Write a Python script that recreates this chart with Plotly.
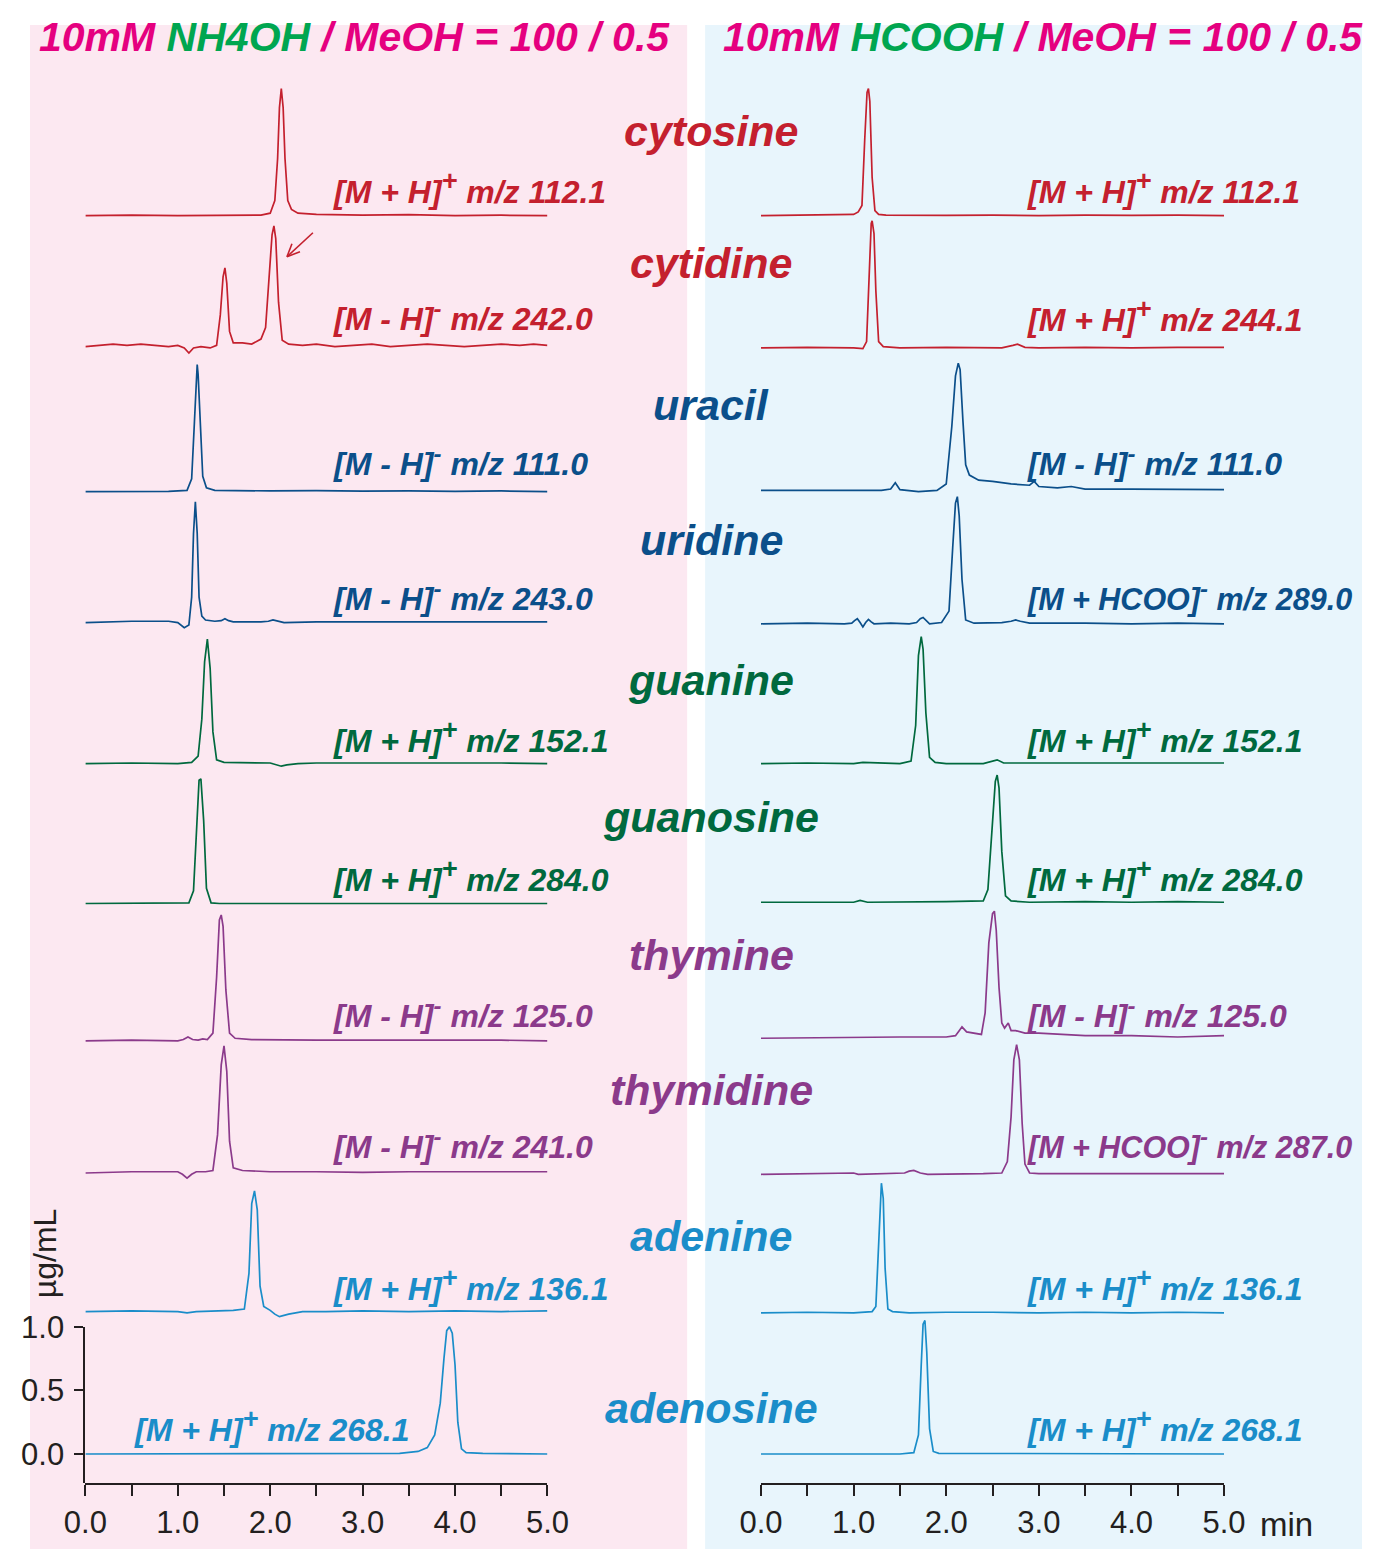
import plotly.graph_objects as go

W, H = 1376, 1549

# ---------------- data: left panel (10mM NH4OH / MeOH) ----------------
L_cytosine_t = [0, 0.5, 1.0, 1.5, 1.9, 2.0, 2.05, 2.08, 2.10, 2.12, 2.14, 2.16, 2.19, 2.23, 2.3, 2.5, 3.0, 3.5, 4.0, 4.5, 5.0]
L_cytosine_y = [0, 0.005, 0, 0.003, 0.005, 0.02, 0.12, 0.45, 0.85, 1.0, 0.85, 0.45, 0.12, 0.05, 0.02, 0.01, 0.005, 0.008, 0, 0.004, 0]

L_cytidine_t = [0, 0.15, 0.3, 0.45, 0.6, 0.75, 0.9, 1.0, 1.07, 1.12, 1.17, 1.25, 1.35, 1.42, 1.46, 1.49, 1.51, 1.53, 1.56, 1.6, 1.7, 1.8, 1.9, 1.95, 1.99, 2.02, 2.04, 2.06, 2.09, 2.13, 2.2, 2.35, 2.5, 2.7, 2.9, 3.1, 3.3, 3.5, 3.7, 3.9, 4.1, 4.3, 4.5, 4.7, 4.85, 5.0]
L_cytidine_y = [0, 0.01, 0.02, 0.01, 0.02, 0.01, 0.0, 0.01, -0.01, -0.05, -0.01, 0.0, -0.01, 0.01, 0.25, 0.55, 0.62, 0.5, 0.12, 0.03, 0.03, 0.02, 0.06, 0.15, 0.55, 0.88, 0.95, 0.85, 0.35, 0.05, 0.02, 0.01, 0.02, 0.0, 0.01, 0.02, 0.0, 0.01, 0.02, 0.01, 0.0, 0.01, 0.02, 0.01, 0.02, 0.01]

L_uracil_t = [0, 0.5, 0.9, 1.1, 1.15, 1.18, 1.20, 1.21, 1.22, 1.24, 1.27, 1.31, 1.4, 2.0, 2.5, 3.0, 3.5, 4.0, 4.5, 5.0]
L_uracil_y = [0, 0.003, 0.002, 0.01, 0.1, 0.55, 0.92, 1.0, 0.92, 0.55, 0.12, 0.03, 0.01, 0.005, 0.008, 0.003, 0.006, 0.002, 0.005, 0.0]

L_uridine_t = [0, 0.5, 0.9, 1.0, 1.07, 1.12, 1.15, 1.17, 1.19, 1.21, 1.23, 1.26, 1.3, 1.4, 1.47, 1.51, 1.55, 1.6, 1.9, 1.98, 2.03, 2.08, 2.15, 2.5, 3.0, 3.5, 4.0, 4.5, 5.0]
L_uridine_y = [0, 0.01, 0.01, 0.0, -0.04, -0.02, 0.2, 0.7, 0.95, 0.7, 0.2, 0.05, 0.02, 0.01, 0.015, 0.03, 0.015, 0.005, 0.005, 0.01, 0.02, 0.01, 0.0, 0.005, 0.005, 0.01, 0.005, 0.01, 0.005]

L_guanine_t = [0, 0.5, 1.0, 1.15, 1.22, 1.26, 1.29, 1.32, 1.35, 1.38, 1.42, 1.5, 2.0, 2.06, 2.12, 2.18, 2.3, 2.5, 3.0, 3.5, 4.0, 4.5, 5.0]
L_guanine_y = [0, 0.005, 0.0, 0.01, 0.06, 0.35, 0.8, 0.98, 0.75, 0.25, 0.03, 0.01, 0.005, -0.01, -0.02, -0.01, 0.0, 0.005, 0.005, 0.01, 0.005, 0.005, 0.0]

L_guanosine_t = [0, 0.5, 1.0, 1.12, 1.17, 1.2, 1.23, 1.25, 1.28, 1.31, 1.36, 1.45, 2.0, 2.5, 3.0, 3.5, 4.0, 4.5, 5.0]
L_guanosine_y = [0, 0, 0, 0.005, 0.1, 0.6, 0.97, 0.98, 0.65, 0.12, 0.005, 0, 0, 0.005, 0, 0, 0, 0, 0]

L_thymine_t = [0, 0.5, 1.0, 1.06, 1.11, 1.16, 1.22, 1.27, 1.32, 1.38, 1.42, 1.45, 1.47, 1.49, 1.52, 1.56, 1.62, 1.8, 2.5, 3.0, 3.5, 4.0, 4.5, 5.0]
L_thymine_y = [0, 0.005, 0.0, 0.01, 0.03, 0.01, 0.005, 0.015, 0.01, 0.06, 0.5, 0.95, 0.99, 0.9, 0.4, 0.06, 0.02, 0.01, 0.005, 0.005, 0.008, 0.005, 0.005, 0.0]

L_thymidine_t = [0, 0.5, 0.9, 1.0, 1.05, 1.1, 1.15, 1.2, 1.3, 1.38, 1.43, 1.47, 1.50, 1.53, 1.56, 1.6, 1.7, 2.0, 2.5, 3.0, 3.5, 4.0, 4.5, 5.0]
L_thymidine_y = [0.0, 0.01, 0.01, 0.01, -0.01, -0.04, -0.01, 0.01, 0.01, 0.02, 0.3, 0.85, 1.0, 0.8, 0.25, 0.04, 0.02, 0.01, 0.01, 0.005, 0.01, 0.01, 0.005, 0.01]

L_adenine_t = [0, 0.5, 1.0, 1.1, 1.2, 1.6, 1.72, 1.77, 1.80, 1.83, 1.86, 1.89, 1.93, 2.0, 2.05, 2.1, 2.2, 2.35, 2.6, 3.0, 3.5, 4.0, 4.5, 5.0]
L_adenine_y = [0, 0.005, 0.0, -0.01, 0.0, 0.01, 0.02, 0.3, 0.85, 0.95, 0.8, 0.2, 0.04, 0.01, -0.02, -0.04, -0.02, 0.0, 0.0, 0.005, 0.0, 0.005, 0.0, 0.005]

L_adenosine_t = [0, 0.5, 1.0, 1.5, 2.0, 2.5, 3.0, 3.4, 3.6, 3.7, 3.78, 3.84, 3.88, 3.91, 3.94, 3.97, 4.0, 4.03, 4.07, 4.12, 4.3, 4.6, 5.0]
L_adenosine_y = [0, 0, 0.002, 0, 0.002, 0, 0.002, 0.005, 0.02, 0.05, 0.15, 0.4, 0.75, 0.97, 1.0, 0.95, 0.7, 0.25, 0.04, 0.01, 0.005, 0.003, 0.0]

# ---------------- data: right panel (10mM HCOOH / MeOH) ----------------
R_cytosine_t = [0, 0.5, 1.0, 1.05, 1.09, 1.12, 1.145, 1.16, 1.175, 1.2, 1.23, 1.27, 1.35, 2.0, 2.5, 3.0, 3.5, 4.0, 4.5, 5.0]
R_cytosine_y = [0, 0.003, 0.01, 0.03, 0.08, 0.6, 0.97, 1.0, 0.9, 0.3, 0.04, 0.01, 0.005, 0.003, 0.005, 0.0, 0.005, 0.003, 0.005, 0.0]

R_cytidine_t = [0, 0.5, 1.0, 1.1, 1.14, 1.17, 1.19, 1.20, 1.22, 1.24, 1.27, 1.32, 1.5, 2.0, 2.6, 2.72, 2.77, 2.85, 3.0, 3.5, 4.0, 4.5, 5.0]
R_cytidine_y = [0, 0.005, 0.0, -0.005, 0.05, 0.7, 0.98, 1.0, 0.9, 0.45, 0.05, 0.01, 0.0, 0.005, 0.0, 0.02, 0.03, 0.005, 0.0, 0.005, 0.0, 0.005, 0.005]

R_uracil_t = [0, 0.5, 1.0, 1.3, 1.4, 1.45, 1.5, 1.7, 1.9, 2.0, 2.06, 2.1, 2.13, 2.15, 2.18, 2.21, 2.25, 2.35, 2.5, 2.7, 2.9, 2.95, 3.0, 3.2, 3.35, 3.5, 4.0, 4.5, 5.0]
R_uracil_y = [0, 0.0, 0.005, 0.0, 0.01, 0.06, 0.005, -0.01, 0.0, 0.05, 0.5, 0.9, 1.0, 0.95, 0.55, 0.2, 0.12, 0.08, 0.07, 0.05, 0.04, 0.07, 0.03, 0.02, 0.03, 0.01, 0.01, 0.005, 0.005]

R_uridine_t = [0, 0.5, 0.9, 0.98, 1.01, 1.04, 1.07, 1.1, 1.13, 1.16, 1.19, 1.22, 1.4, 1.6, 1.68, 1.72, 1.75, 1.78, 1.82, 1.95, 2.03, 2.07, 2.10, 2.12, 2.14, 2.17, 2.21, 2.3, 2.6, 2.7, 2.75, 2.8, 2.9, 3.5, 4.0, 4.5, 5.0]
R_uridine_y = [0, 0.005, 0.0, 0.005, 0.025, 0.04, 0.01, -0.025, 0.01, 0.035, 0.015, 0.0, 0.005, 0.0, 0.01, 0.04, 0.05, 0.03, 0.0, 0.01, 0.1, 0.6, 0.95, 1.0, 0.85, 0.35, 0.03, 0.005, 0.01, 0.02, 0.03, 0.02, 0.005, 0.005, 0.0, 0.005, 0.0]

R_guanine_t = [0, 0.5, 1.0, 1.1, 1.5, 1.62, 1.67, 1.70, 1.73, 1.75, 1.78, 1.82, 1.88, 2.0, 2.4, 2.5, 2.55, 2.62, 3.0, 3.5, 4.0, 4.5, 5.0]
R_guanine_y = [0, 0.005, 0.0, 0.01, 0.0, 0.02, 0.3, 0.85, 1.0, 0.9, 0.4, 0.05, 0.01, 0.0, 0.0, 0.02, 0.03, 0.005, 0.005, 0.0, 0.005, 0.0, 0.005]

R_guanosine_t = [0, 0.5, 1.0, 1.07, 1.15, 2.0, 2.4, 2.45, 2.5, 2.53, 2.55, 2.57, 2.6, 2.64, 2.7, 2.9, 3.5, 4.0, 4.5, 5.0]
R_guanosine_y = [0, 0.0, 0.0, 0.015, 0.0, 0.005, 0.01, 0.1, 0.6, 0.95, 1.0, 0.9, 0.4, 0.05, 0.01, 0.0, 0.005, 0.0, 0.005, 0.0]

R_thymine_t = [0, 0.5, 1.0, 1.5, 2.0, 2.1, 2.14, 2.17, 2.22, 2.3, 2.38, 2.42, 2.46, 2.5, 2.52, 2.54, 2.57, 2.6, 2.63, 2.67, 2.7, 2.75, 2.85, 3.0, 3.2, 3.5, 4.0, 4.5, 5.0]
R_thymine_y = [0, 0.005, 0.005, 0.01, 0.01, 0.02, 0.06, 0.09, 0.05, 0.04, 0.03, 0.2, 0.75, 0.98, 1.0, 0.85, 0.4, 0.12, 0.08, 0.12, 0.06, 0.06, 0.04, 0.04, 0.03, 0.02, 0.02, 0.01, 0.02]

R_thymidine_t = [0, 0.5, 1.0, 1.05, 1.55, 1.6, 1.65, 1.72, 1.8, 2.4, 2.6, 2.66, 2.7, 2.73, 2.76, 2.79, 2.82, 2.85, 2.9, 3.0, 3.5, 4.0, 4.5, 5.0]
R_thymidine_y = [0, 0.005, 0.01, 0.0, 0.01, 0.025, 0.03, 0.01, 0.0, 0.005, 0.01, 0.1, 0.45, 0.9, 1.02, 0.9, 0.4, 0.08, 0.01, 0.005, 0.005, 0.0, 0.005, 0.005]

R_adenine_t = [0, 0.5, 1.0, 1.2, 1.24, 1.27, 1.29, 1.30, 1.32, 1.34, 1.37, 1.42, 1.6, 2.0, 2.5, 3.0, 3.5, 4.0, 4.5, 5.0]
R_adenine_y = [0, 0.005, 0.0, 0.01, 0.05, 0.6, 0.98, 1.02, 0.9, 0.35, 0.03, 0.01, 0.0, 0.005, 0.005, 0.0, 0.005, 0.0, 0.005, 0.0]

R_adenosine_t = [0, 0.5, 1.0, 1.5, 1.65, 1.70, 1.73, 1.75, 1.77, 1.79, 1.82, 1.86, 1.92, 2.0, 2.5, 3.0, 3.5, 4.0, 4.5, 5.0]
R_adenosine_y = [0, 0.0, 0.002, 0.0, 0.01, 0.15, 0.7, 1.02, 1.05, 0.8, 0.2, 0.02, 0.005, 0.005, 0.0, 0.002, 0.0, 0.002, 0.0, 0.0]

compounds = ["cytosine", "cytidine", "uracil", "uridine", "guanine",
             "guanosine", "thymine", "thymidine", "adenine", "adenosine"]

PLUS = '<sup><span style="font-size:27px">+</span></sup>'
MINUS = '<sup><span style="font-size:24px">-</span></sup>'

left_ions = ["[M + H]" + PLUS + " m/z 112.1", "[M - H]" + MINUS + " m/z 242.0",
             "[M - H]" + MINUS + " m/z 111.0", "[M - H]" + MINUS + " m/z 243.0",
             "[M + H]" + PLUS + " m/z 152.1", "[M + H]" + PLUS + " m/z 284.0",
             "[M - H]" + MINUS + " m/z 125.0", "[M - H]" + MINUS + " m/z 241.0",
             "[M + H]" + PLUS + " m/z 136.1", "[M + H]" + PLUS + " m/z 268.1"]
right_ions = ["[M + H]" + PLUS + " m/z 112.1", "[M + H]" + PLUS + " m/z 244.1",
              "[M - H]" + MINUS + " m/z 111.0", "[M + HCOO]" + MINUS + " m/z 289.0",
              "[M + H]" + PLUS + " m/z 152.1", "[M + H]" + PLUS + " m/z 284.0",
              "[M - H]" + MINUS + " m/z 125.0", "[M + HCOO]" + MINUS + " m/z 287.0",
              "[M + H]" + PLUS + " m/z 136.1", "[M + H]" + PLUS + " m/z 268.1"]

x_ticks = [0.0, 0.5, 1.0, 1.5, 2.0, 2.5, 3.0, 3.5, 4.0, 4.5, 5.0]
x_ticktext = ["0.0", "", "1.0", "", "2.0", "", "3.0", "", "4.0", "", "5.0"]
y_ticks = [0.0, 0.5, 1.0]
y_ticktext = ["0.0", "0.5", "1.0"]

left_t = [L_cytosine_t, L_cytidine_t, L_uracil_t, L_uridine_t, L_guanine_t,
          L_guanosine_t, L_thymine_t, L_thymidine_t, L_adenine_t, L_adenosine_t]
left_y = [L_cytosine_y, L_cytidine_y, L_uracil_y, L_uridine_y, L_guanine_y,
          L_guanosine_y, L_thymine_y, L_thymidine_y, L_adenine_y, L_adenosine_y]
right_t = [R_cytosine_t, R_cytidine_t, R_uracil_t, R_uridine_t, R_guanine_t,
           R_guanosine_t, R_thymine_t, R_thymidine_t, R_adenine_t, R_adenosine_t]
right_y = [R_cytosine_y, R_cytidine_y, R_uracil_y, R_uridine_y, R_guanine_y,
           R_guanosine_y, R_thymine_y, R_thymidine_y, R_adenine_y, R_adenosine_y]

# ---------------- styles / layout ----------------
RED, DBLUE, GREEN, PURPLE, LBLUE = "#C4202E", "#0B4F8A", "#00693E", "#8B3A8B", "#1A8DC9"
colors = [RED, RED, DBLUE, DBLUE, GREEN, GREEN, PURPLE, PURPLE, LBLUE, LBLUE]
left_offsets = [9.74, 8.71, 7.57, 6.54, 5.43, 4.33, 3.25, 2.21, 1.12, 0.0]
right_offsets = [9.74, 8.70, 7.58, 6.53, 5.43, 4.34, 3.27, 2.20, 1.11, 0.0]

MAG, TGREEN = "#E5007F", "#00A650"
AXC = "#231F20"
FONT = "Liberation Sans, Arial, sans-serif"

# screen placement (target pixel rows/cols in the final picture)
PX_PER_UNIT = 127.0
BASE_PX = 1453.0   # zero intensity of the bottom trace
AXIS_PX = 1482.0   # time axis line
TOP_PX = 60.0
Y1_PX = 1326.0     # 1.0 tick of the intensity axis

# the page is shown with an offset/scale; map target pixels into paper fractions
SX, OX = 0.970, 27.5
SY, OY = 0.988, 25.5


def fx(X):
    return min(max((X - OX) / SX / W, 0.0), 1.0)


def fy(Y):
    return min(max(1 - (Y - OY) / SY / H, 0.0), 1.0)


y_lo = -(AXIS_PX - BASE_PX) / PX_PER_UNIT
y_hi = (BASE_PX - TOP_PX) / PX_PER_UNIT

fig = go.Figure()

for i in range(10):
    fig.add_trace(go.Scatter(
        x=left_t[i], y=[v + left_offsets[i] for v in left_y[i]],
        mode="lines", line=dict(color=colors[i], width=1.7),
        xaxis="x", yaxis="y", showlegend=False, hoverinfo="skip"))
    fig.add_trace(go.Scatter(
        x=right_t[i], y=[v + right_offsets[i] for v in right_y[i]],
        mode="lines", line=dict(color=colors[i], width=1.7),
        xaxis="x2", yaxis="y2", showlegend=False, hoverinfo="skip"))

# invisible trace so the visible intensity axis is drawn
fig.add_trace(go.Scatter(x=[None], y=[None], xaxis="x", yaxis="y3",
                         showlegend=False, hoverinfo="skip"))

TICKFONT = dict(family=FONT, size=31, color=AXC)
xaxis_common = dict(range=[0, 5], showline=True, linecolor=AXC, linewidth=2,
                    ticks="outside", ticklen=11, tickwidth=2, tickcolor=AXC,
                    tickvals=x_ticks, ticktext=x_ticktext, showgrid=False,
                    zeroline=False, tickfont=TICKFONT)

fig.update_layout(
    width=W, height=H,
    margin=dict(l=0, r=0, t=0, b=0),
    paper_bgcolor="white", plot_bgcolor="rgba(0,0,0,0)",
    xaxis=dict(domain=[fx(83), fx(546)], anchor="y", **xaxis_common),
    xaxis2=dict(domain=[fx(760), fx(1224)], anchor="y2", **xaxis_common),
    yaxis=dict(domain=[fy(AXIS_PX), fy(TOP_PX)], range=[y_lo, y_hi], visible=False,
               anchor="x"),
    yaxis2=dict(domain=[fy(AXIS_PX), fy(TOP_PX)], range=[y_lo, y_hi], visible=False,
                anchor="x2"),
    yaxis3=dict(domain=[fy(AXIS_PX), fy(Y1_PX)], range=[y_lo, 1.0], anchor="x",
                showline=True, linecolor=AXC, linewidth=2, ticks="outside",
                ticklen=9, tickwidth=2, tickcolor=AXC, tickvals=y_ticks,
                ticktext=y_ticktext, showgrid=False, zeroline=False,
                ticklabelstandoff=4, tickfont=TICKFONT),
)

shapes = [
    dict(type="rect", xref="paper", yref="paper", x0=fx(7), x1=fx(686),
         y0=0, y1=fy(10), fillcolor="#FCE8F1", line=dict(width=0), layer="below"),
    dict(type="rect", xref="paper", yref="paper", x0=fx(704), x1=1,
         y0=0, y1=fy(10), fillcolor="#E8F5FC", line=dict(width=0), layer="below"),
    # arrow pointing at the cytidine peak
    dict(type="line", xref="paper", yref="paper", x0=fx(311), y0=fy(233),
         x1=fx(285), y1=fy(257), line=dict(color=RED, width=1.6)),
    dict(type="line", xref="paper", yref="paper", x0=fx(285), y0=fy(257),
         x1=fx(290), y1=fy(244), line=dict(color=RED, width=1.6)),
    dict(type="line", xref="paper", yref="paper", x0=fx(285), y0=fy(257),
         x1=fx(298), y1=fy(252), line=dict(color=RED, width=1.6)),
]
fig.update_layout(shapes=shapes)

ann = []
title_tpl = '<b><i>10mM <span style="color:%s">%s</span> / MeOH = 100 / 0.5</i></b>'
ann.append(dict(text=title_tpl % (TGREEN, "NH4OH"), x=fx(353), y=fy(37),
                xref="paper", yref="paper", showarrow=False, xanchor="center",
                yanchor="middle", font=dict(family=FONT, size=41, color=MAG)))
ann.append(dict(text=title_tpl % (TGREEN, "HCOOH"), x=fx(1043), y=fy(37),
                xref="paper", yref="paper", showarrow=False, xanchor="center",
                yanchor="middle", font=dict(family=FONT, size=41, color=MAG)))

name_px = [131, 263, 405, 540, 680, 817, 955, 1089, 1235, 1407]
ion_px = [188, 316, 461, 596, 737, 876, 1012, 1143, 1284, 1425]
for i in range(10):
    ann.append(dict(text="<b><i>%s</i></b>" % compounds[i], x=fx(710), y=fy(name_px[i]),
                    xref="paper", yref="paper", showarrow=False, xanchor="center",
                    yanchor="middle", font=dict(family=FONT, size=43, color=colors[i])))
    lx = 130 if i == 9 else 329
    ann.append(dict(text="<b><i>%s</i></b>" % left_ions[i], x=fx(lx), y=fy(ion_px[i]),
                    xref="paper", yref="paper", showarrow=False, xanchor="left",
                    yanchor="middle", font=dict(family=FONT, size=32, color=colors[i])))
    rsize = 30.5 if "HCOO" in right_ions[i] else 32
    ann.append(dict(text="<b><i>%s</i></b>" % right_ions[i], x=fx(1025), y=fy(ion_px[i]),
                    xref="paper", yref="paper", showarrow=False, xanchor="left",
                    yanchor="middle", font=dict(family=FONT, size=rsize, color=colors[i])))

ann.append(dict(text="µg/mL", x=fx(42), y=fy(1252), xref="paper", yref="paper",
                showarrow=False, textangle=-90, xanchor="center", yanchor="middle",
                font=dict(family=FONT, size=32, color=AXC)))
ann.append(dict(text="min", x=fx(1258), y=fy(1523), xref="paper", yref="paper",
                showarrow=False, xanchor="left", yanchor="middle",
                font=dict(family=FONT, size=33, color=AXC)))
fig.update_layout(annotations=ann)

fig.write_html("out.html")
